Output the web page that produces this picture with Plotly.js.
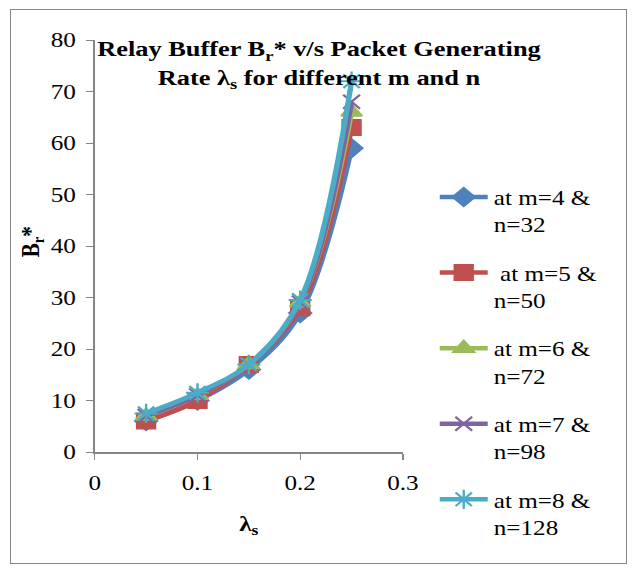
<!DOCTYPE html>
<html>
<head>
<meta charset="utf-8">
<script src="https://cdn.plot.ly/plotly-3.0.1.min.js"></script>
<style>
  html, body { margin: 0; padding: 0; background: #fff; overflow: hidden; }
  #frame {
    position: absolute; left: 10px; top: 9px;
    width: 617px; height: 555px;
    border: 1px solid #888; box-sizing: border-box;
  }
  /* the chart is laid out narrower and widened to fill the 638px frame */
  #chart {
    position: absolute; left: 0; top: 0;
    width: 532px; height: 573px;
    transform-origin: 0 0;
    transform: scaleX(1.1992);
  }
</style>
</head>
<body>
<div id="frame"></div>
<div id="chart"></div>
<script>
// Packet generating rate (lambda_s)
const lambdaS = [0.05, 0.1, 0.15, 0.2, 0.25];

// Relay buffer B_r* for each (m, n) pair
const bufM4N32  = [6, 10, 16, 27, 59];
const bufM5N50  = [6, 10, 17, 28, 63];
const bufM6N72  = [7, 11, 17, 29, 66];
const bufM7N98  = [7, 11, 17, 29, 68];
const bufM8N128 = [7.5, 11.5, 17, 29.5, 72];

const seriesNames = [
  'at m=4 &<br>n=32',
  ' at m=5 &<br>n=50',
  'at m=6 &<br>n=72',
  'at m=7 &<br>n=98',
  'at m=8 &<br>n=128'
];

const xTickVals = [0, 0.1, 0.2, 0.3];
const xTickText = ['0', '0.1', '0.2', '0.3'];
const yTickVals = [0, 10, 20, 30, 40, 50, 60, 70, 80];

const series = [bufM4N32, bufM5N50, bufM6N72, bufM7N98, bufM8N128];
const colors = ['#4F81BD', '#C0504D', '#9BBB59', '#8064A2', '#4BACC6'];
const symbols = ['diamond', 'square', 'triangle-up', 'x-thin-open', 'asterisk-open'];
const sizes = [14, 15, 15, 14, 16];

const traces = series.map((ys, i) => ({
  x: lambdaS,
  y: ys,
  name: seriesNames[i],
  legendgroup: 'g' + i,
  type: 'scatter',
  mode: 'lines+markers',
  line: { color: colors[i], width: 4.5, shape: 'spline', smoothing: 1 },
  marker: {
    symbol: symbols[i],
    size: sizes[i],
    color: colors[i],
    line: { color: colors[i], width: 2 }
  }
}));

const serif = 'Liberation Serif, serif';
const textFont = { family: serif, size: 21, color: '#000' };

const layout = {
  width: 532,
  height: 573,
  margin: { l: 79, r: 196, t: 40, b: 121 },
  paper_bgcolor: 'rgba(0,0,0,0)',
  plot_bgcolor: 'rgba(0,0,0,0)',
  font: textFont,
  title: {
    text: '<b>Relay Buffer B<sub>r</sub>* v/s Packet Generating<br>Rate λ<sub>s</sub> for different m and n</b>',
    font: { family: serif, size: 22, color: '#000' },
    x: 0.5,
    xref: 'container',
    y: 1 - 56 / 573,
    yanchor: 'top'
  },
  xaxis: {
    range: [0, 0.3],
    tickvals: xTickVals,
    ticktext: xTickText,
    showgrid: false,
    zeroline: false,
    showline: true,
    linecolor: '#868686',
    linewidth: 1.5,
    ticks: 'outside',
    ticklen: 6,
    tickcolor: '#868686',
    tickfont: textFont,
    ticklabelstandoff: 5,
    title: {
      text: '<b>λ<sub>s</sub></b>',
      font: textFont,
      standoff: 22
    }
  },
  yaxis: {
    range: [0, 80],
    tickvals: yTickVals,
    showgrid: false,
    zeroline: false,
    showline: true,
    linecolor: '#868686',
    linewidth: 1.5,
    ticks: 'outside',
    ticklen: 6,
    tickcolor: '#868686',
    tickfont: textFont,
    ticklabelstandoff: 4
  },
  annotations: [{
    // y-axis title, set close to the tick labels
    text: '<b>B<sub>r</sub>*</b>',
    font: textFont,
    textangle: -90,
    xref: 'paper', yref: 'paper',
    x: -0.205, y: 0.51,
    xanchor: 'center', yanchor: 'middle',
    showarrow: false
  }],
  legend: {
    x: 1.10,
    xanchor: 'left',
    y: 0.668,
    yanchor: 'top',
    font: textFont,
    tracegroupgap: 18,
    itemwidth: 40,
    valign: 'top',
    bgcolor: 'rgba(0,0,0,0)'
  },
  showlegend: true
};

Plotly.newPlot('chart', traces, layout, { displayModeBar: false, staticPlot: true });
</script>
</body>
</html>
